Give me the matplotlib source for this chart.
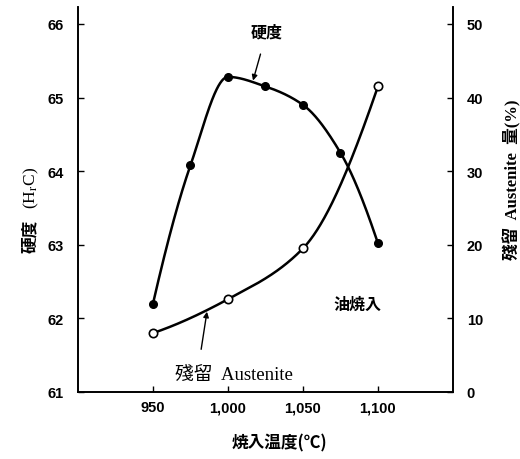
import numpy as np
import matplotlib
matplotlib.use("Agg")
import matplotlib.pyplot as plt

plt.rcParams['mathtext.fontset'] = 'stix'

# Data
hard_temp = [950, 975, 1000, 1025, 1050, 1075, 1100]
hardness = [62.2, 64.08, 65.28, 65.15, 64.9, 64.25, 63.02]
aust_temp = [950, 1000, 1050, 1100]
austenite = [8.0, 12.6, 19.5, 41.5]
x_ticks = [950, 1000, 1050, 1100]
x_ticklabels = ["950", "1,000", "1,050", "1,100"]
left_ticks = [61, 62, 63, 64, 65, 66]
right_ticks = [0, 10, 20, 30, 40, 50]


def pchip(x, y, xs):
    x = np.asarray(x, float); y = np.asarray(y, float)
    h = np.diff(x); d = np.diff(y) / h
    n = len(x); m = np.zeros(n)
    for k in range(1, n - 1):
        if d[k - 1] * d[k] <= 0:
            m[k] = 0
        else:
            w1 = 2 * h[k] + h[k - 1]; w2 = h[k] + 2 * h[k - 1]
            m[k] = (w1 + w2) / (w1 / d[k - 1] + w2 / d[k])
    def end(h0, h1, d0, d1):
        v = ((2 * h0 + h1) * d0 - h0 * d1) / (h0 + h1)
        if np.sign(v) != np.sign(d0):
            v = 0
        elif np.sign(d0) != np.sign(d1) and abs(v) > abs(3 * d0):
            v = 3 * d0
        return v
    m[0] = end(h[0], h[1], d[0], d[1])
    m[-1] = end(h[-1], h[-2], d[-1], d[-2])
    ys = np.empty_like(xs)
    for i, xv in enumerate(xs):
        k = min(max(np.searchsorted(x, xv) - 1, 0), n - 2)
        t = (xv - x[k]) / h[k]
        h00 = 2 * t**3 - 3 * t**2 + 1; h10 = t**3 - 2 * t**2 + t
        h01 = -2 * t**3 + 3 * t**2; h11 = t**3 - t**2
        ys[i] = h00 * y[k] + h10 * h[k] * m[k] + h01 * y[k + 1] + h11 * h[k] * m[k + 1]
    return ys


fig = plt.figure(figsize=(5.2, 4.6), dpi=100)
ax = fig.add_axes([0.15, 0.1457, 0.721, 0.837])
ax2 = ax.twinx()

cjk = ['Noto Sans CJK JP']
mixed = ['Liberation Serif', 'Noto Sans CJK JP']

xs = np.linspace(hard_temp[0], hard_temp[-1], 400)
ax.plot(xs, pchip(hard_temp, hardness, xs), color='black', lw=1.8, zorder=2)
ax.plot(hard_temp, hardness, 'o', color='black', ms=5.5, zorder=3)

xs2 = np.linspace(aust_temp[0], aust_temp[-1], 400)
ax2.plot(xs2, pchip(aust_temp, austenite, xs2), color='black', lw=1.8, zorder=2)
ax2.plot(aust_temp, austenite, 'o', mfc='white', mec='black', mew=1.2, ms=6, zorder=3)

ax.set_xlim(900, 1150)
ax.set_ylim(61, 66.23)
ax2.set_ylim(0, 52.3)

ax.set_xticks(x_ticks)
ax.set_xticklabels(x_ticklabels)
ax.set_yticks(left_ticks)
ax2.set_yticks(right_ticks)

for a in (ax, ax2):
    a.spines['top'].set_visible(False)
    for s in a.spines.values():
        s.set_linewidth(1.2)
    a.tick_params(direction='in', length=4, width=1, labelsize=10.5, pad=6)
    for lab in a.get_xticklabels() + a.get_yticklabels():
        lab.set_fontfamily('Liberation Sans')
        lab.set_fontweight('bold')
ax.tick_params(axis='y', pad=10)
ax2.tick_params(axis='y', pad=10)

# Labels
fig.text(30 / 520, 1 - 236 / 460, "硬度", rotation=90, ha='center', va='center',
         fontsize=12, family=cjk, fontweight='bold')
fig.text(31 / 520, 1 - 188 / 460, "(H$_\\mathrm{r}$C)", rotation=90, ha='center', va='center',
         fontsize=12.5, family=['Liberation Serif'])
fig.text(512 / 520, 1 - 180 / 460, "殘留  Austenite  量(%)", rotation=90, ha='center', va='center',
         fontsize=12, family=mixed, fontweight='bold')
fig.text(279 / 520, 1 - 443 / 460, "焼入温度(℃)", ha='center', va='center',
         fontsize=12, family=cjk, fontweight='bold')

ax.annotate("硬度", xy=(1016.7, 65.23), xytext=(1026, 65.9), ha='center', va='center',
            fontsize=11.5, family=cjk, fontweight='bold',
            arrowprops=dict(arrowstyle='-|>', color='black', lw=1, shrinkA=9, shrinkB=0,
                            mutation_scale=8))
ax2.annotate("殘留  Austenite", xy=(986, 10.9), xytext=(1004, 2.4), ha='center', va='center',
             fontsize=13.5, family=mixed,
             arrowprops=dict(arrowstyle='-|>', color='black', lw=1, shrinkA=10, shrinkB=0,
                             mutation_scale=8, relpos=(0.2, 1.0)))
ax.text(1086, 62.2, "油焼入", ha='center', va='center', fontsize=11.5, family=cjk,
        fontweight='bold')

fig.savefig("out.png", dpi=100)
